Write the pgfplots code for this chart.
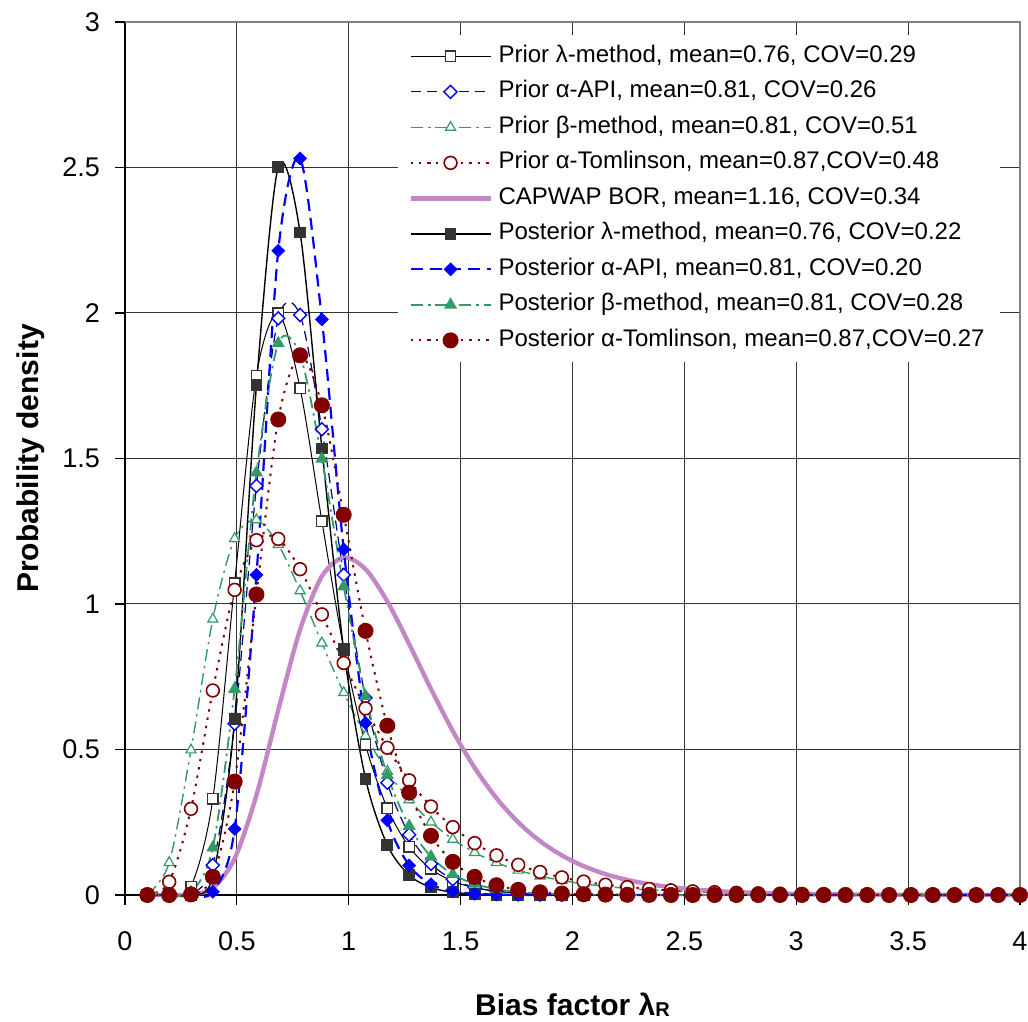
\documentclass[border=0pt]{standalone}
\usepackage{fontspec}
\setmainfont{Liberation Sans}
\usepackage{pgfplots}
\usepackage{pgfplotstable}
\pgfplotsset{compat=1.18}
\definecolor{navyc}{RGB}{0,0,128}
\definecolor{bluec}{RGB}{0,0,255}
\definecolor{greenc}{RGB}{51,153,102}
\definecolor{redc}{RGB}{128,0,0}
\definecolor{orchidc}{RGB}{195,135,200}
\definecolor{sqc}{RGB}{51,51,51}

\pgfplotstableread{
x pl pa pb pt cap ql qa qb qt
0.1 0 0 0.0018 0.0003 0 0 0 0 0
0.1975 0.0002 0 0.1113 0.0452 0 0 0 0 0
0.295 0.0295 0.0036 0.4984 0.2961 0.0015 0.0008 0 0.0094 0.0021
0.3925 0.3299 0.1025 0.9481 0.7028 0.0243 0.0638 0.011 0.1627 0.0627
0.49 1.0716 0.5885 1.2247 1.0486 0.1254 0.6041 0.227 0.7080 0.3897
0.5875 1.7850 1.4056 1.2889 1.2193 0.3431 1.7518 1.100 1.4518 1.0327
0.685 1.9989 1.9814 1.2042 1.2237 0.6359 2.5023 2.214 1.8958 1.6340
0.7825 1.7412 1.9933 1.0454 1.1196 0.9117 2.2769 2.531 1.8556 1.8547
0.88 1.2848 1.6004 0.8658 0.9643 1.0952 1.5347 1.978 1.4985 1.6828
0.9775 0.8469 1.0998 0.6954 0.7974 1.1598 0.8420 1.1875 1.0601 1.3065
1.075 0.5163 0.6772 0.5474 0.6413 1.1197 0.3999 0.591 0.6832 0.9076
1.1725 0.2980 0.3855 0.4251 0.5060 1.0088 0.1715 0.257 0.4120 0.5817
1.27 0.1655 0.2073 0.3273 0.3940 0.8624 0.0683 0.1015 0.2369 0.3515
1.3675 0.0894 0.1070 0.2507 0.3041 0.7080 0.0258 0.037 0.1316 0.2033
1.465 0.0475 0.0536 0.1914 0.2333 0.5634 0.0094 0.013 0.0713 0.1139
1.5625 0.0249 0.0263 0.1460 0.1783 0.4374 0.0033 0.0044 0.0380 0.0623
1.66 0.0129 0.0127 0.1114 0.1361 0.3331 0.0012 0.0015 0.0200 0.0335
1.7575 0.0067 0.0061 0.0851 0.1037 0.2499 0.0004 0.0005 0.0104 0.0178
1.855 0.0035 0.0029 0.0651 0.0791 0.1852 0 0 0.0054 0.0094
1.9525 0.0018 0.0014 0.0499 0.0604 0.1360 0 0 0.0028 0.0049
2.05 0.0009 0.0007 0.0383 0.0461 0.0992 0 0 0.0015 0.0026
2.1475 0.0005 0.0003 0.0295 0.0353 0.0719 0 0 0.0008 0.0014
2.245 0.0003 0 0.0228 0.0271 0.0519 0 0 0.0004 0.0007
2.3425 0 0 0.0177 0.0208 0.0374 0 0 0 0.0004
2.44 0 0 0.0137 0.0161 0.0269 0 0 0 0
2.5375 0 0 0.0107 0.0124 0.0193 0 0 0 0
2.635 0 0 0.0084 0.0096 0.0138 0 0 0 0
2.7325 0 0 0.0066 0.0075 0.0099 0 0 0 0
2.83 0 0 0.0052 0.0058 0.0071 0 0 0 0
2.9275 0 0 0.0041 0.0046 0.0051 0 0 0 0
3.025 0 0 0.0032 0.0036 0.0037 0 0 0 0
3.1225 0 0 0.0026 0.0028 0.0026 0 0 0 0
3.22 0 0 0.0021 0.0022 0.0019 0 0 0 0
3.3175 0 0 0.0017 0.0018 0.0014 0 0 0 0
3.415 0 0 0.0013 0.0014 0.0010 0 0 0 0
3.5125 0 0 0.0011 0.0011 0.0007 0 0 0 0
3.61 0 0 0.0009 0.0009 0.0005 0 0 0 0
3.7075 0 0 0.0007 0.0007 0.0004 0 0 0 0
3.805 0 0 0.0006 0.0005 0.0003 0 0 0 0
3.9025 0 0 0.0005 0.0004 0.0002 0 0 0 0
4.0 0 0 0.0004 0.0003 0.0001 0 0 0 0
}\data

\begin{document}
\begin{tikzpicture}
\useasboundingbox (-62.5pt,-63.5pt) rectangle (451.5pt,447.5pt);
\begin{axis}[
  at={(0,0)}, anchor=south west,
  scale only axis, width=447.5pt, height=436.5pt,
  xmin=0, xmax=4, ymin=0, ymax=3,
  xtick={0,0.5,...,4}, ytick={0,0.5,...,3},
  tick pos=left, tick align=outside, major tick length=5pt,
  grid=major, grid style={black!80, line width=0.5pt},
  axis line style={black, line width=0.6pt},
  tick style={black, line width=0.6pt},
  /pgf/number format/assume math mode=true,
  ticklabel style={font=\fontsize{13.5}{15}\selectfont},
  xticklabel style={yshift=-10pt},
  yticklabel style={xshift=-4pt},
  xlabel={Bias factor λ\raisebox{-0.4pt}{\fontsize{10}{12}\selectfont R}},
  ylabel={Probability density},
  xlabel style={at={(rel axis cs:0.5,-0.138)}, anchor=base, font=\fontsize{15}{18}\selectfont\bfseries},
  ylabel style={at={(rel axis cs:-0.0972,0.5)}, anchor=base, font=\fontsize{15}{18}\selectfont\bfseries},
  clip=false,
  legend image code/.code={\draw[mark repeat=2,mark phase=2] plot coordinates {(0pt,0pt) (20pt,0pt) (40pt,0pt)};},
  legend style={at={(rel axis cs:0.305,0.986)}, anchor=north west, draw=none, fill=white,
    inner xsep=5pt, inner ysep=2pt, font=\fontsize{12}{14}\selectfont,
    nodes={text height=9pt, text depth=3pt, inner sep=2.875pt},
    legend cell align=left},
  smooth, tension=0.5,
]
\addplot[black, line width=0.5pt, mark=square*, mark size=2.6pt,
  mark options={solid, draw=sqc, fill=white, line width=0.7pt}] table[x=x,y=pl]{\data};
\addlegendentry{Prior λ-method, mean=0.76, COV=0.29}
\addplot[navyc, line width=0.6pt, dash pattern=on 5pt off 3pt, mark=square*, mark size=2.3pt,
  mark options={solid, rotate=45, draw=bluec, fill=white, line width=0.7pt}] table[x=x,y=pa]{\data};
\addlegendentry{Prior α-API, mean=0.81, COV=0.26}
\addplot[greenc, line width=0.7pt, dash pattern=on 6pt off 2.5pt on 1.2pt off 2.5pt, mark=triangle*, mark size=2.9pt,
  mark options={solid, draw=greenc, fill=white, line width=0.6pt}] table[x=x,y=pb]{\data};
\addlegendentry{Prior β-method, mean=0.81, COV=0.51}
\addplot[redc, line width=1pt, dash pattern=on 1.2pt off 3pt, mark=*, mark size=3.2pt,
  mark options={solid, draw=redc, fill=white, line width=0.8pt}] table[x=x,y=pt]{\data};
\addlegendentry{Prior α-Tomlinson, mean=0.87,COV=0.48}
\addplot[orchidc, line width=2.2pt, no marks] table[x=x,y=cap]{\data};
\addlegendentry{CAPWAP BOR, mean=1.16, COV=0.34}
\addplot[black, line width=0.7pt, mark=square*, mark size=2.6pt,
  mark options={solid, draw=sqc, fill=sqc}] table[x=x,y=ql]{\data};
\addlegendentry{Posterior λ-method, mean=0.76, COV=0.22}
\addplot[bluec, line width=1.1pt, dash pattern=on 6pt off 3.5pt, mark=square*, mark size=2.3pt,
  mark options={solid, rotate=45, draw=bluec, fill=bluec, line width=0.3pt}] table[x=x,y=qa]{\data};
\addlegendentry{Posterior α-API, mean=0.81, COV=0.20}
\addplot[greenc, line width=0.9pt, dash pattern=on 6pt off 2.5pt on 1.2pt off 2.5pt, mark=triangle*, mark size=2.9pt,
  mark options={solid, draw=greenc, fill=greenc}] table[x=x,y=qb]{\data};
\addlegendentry{Posterior β-method, mean=0.81, COV=0.28}
\addplot[redc, line width=1pt, dash pattern=on 1.2pt off 3pt, mark=*, mark size=3.5pt,
  mark options={solid, draw=redc, fill=redc}] table[x=x,y=qt]{\data};
\addlegendentry{Posterior α-Tomlinson, mean=0.87,COV=0.27}
\draw[gray, line width=0.8pt] (rel axis cs:0,1) -- (rel axis cs:1,1) -- (rel axis cs:1,0);
\end{axis}
\end{tikzpicture}
\end{document}
